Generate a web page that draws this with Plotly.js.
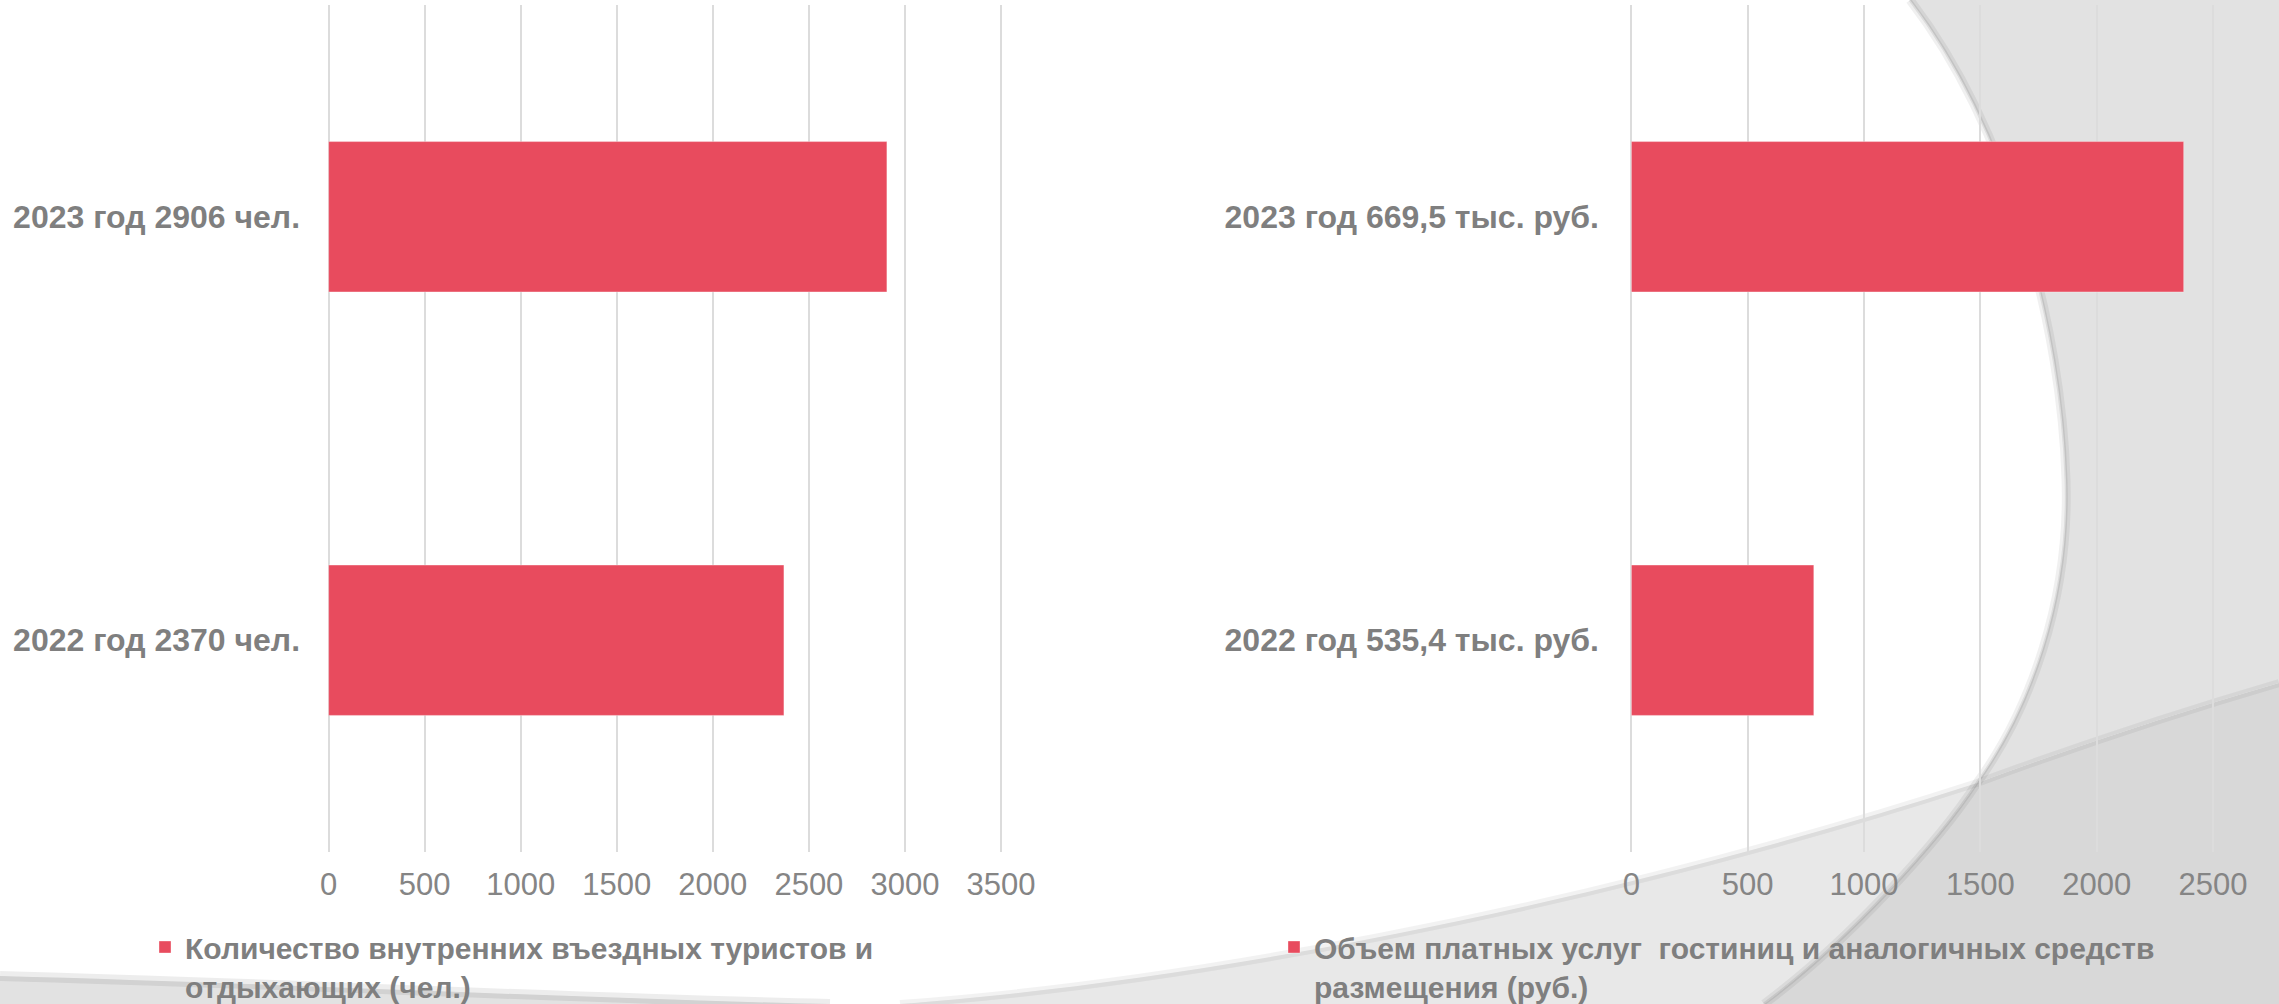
<!DOCTYPE html>
<html>
<head>
<meta charset="utf-8">
<script src="https://cdn.plot.ly/plotly-3.0.1.min.js"></script>
<style>
  html, body { margin: 0; padding: 0; background: #ffffff; overflow: hidden; }
  #chart { width: 2279px; height: 1004px; }
</style>
</head>
<body>
<div id="chart"></div>
<script>
// ---------------- data ----------------
const touristCategories = ['2022 год 2370 чел.', '2023 год 2906 чел.'];
const touristValues = [2370, 2906];
const touristSeriesName = 'Количество внутренних въездных туристов и<br>отдыхающих (чел.)';

const serviceCategories = ['2022 год 535,4 тыс. руб.', '2023 год 669,5 тыс. руб.'];
const serviceValues = [784, 2374];
const serviceSeriesName = 'Объем платных услуг \u00a0гостиниц и аналогичных средств<br>размещения (руб.)';

const leftTickValues = [0, 500, 1000, 1500, 2000, 2500, 3000, 3500];
const rightTickValues = [0, 500, 1000, 1500, 2000, 2500];

// ---------------- styling ----------------
const W = 2279, H = 1004;
const FONT = '"Liberation Sans", Arial, sans-serif';
const TEXT = '#7f7f7f';
const BAR = '#E84B5E';
const GRID = '#dcdcdc';

// pixel -> paper helpers for the decorative background
const px = (x, y) => (x / W).toFixed(5) + ',' + (1 - y / H).toFixed(5);
const C = (a, b, c) => ' C ' + px(...a) + ' ' + px(...b) + ' ' + px(...c);
const L = (x, y) => ' L ' + px(x, y);
const M = (x, y) => 'M ' + px(x, y);

// arc pieces (top-right big ellipse edge)
const A1 = C([2010,130],[2062,330],[2066,480]);
const A2 = C([2070,600],[2030,710],[1977,783]);
const A3 = C([1940,840],[1850,940],[1764,1004]);
const A3r = C([1850,940],[1940,840],[1977,783]);
// bottom rising curve
const B1 = C([1160,985],[1560,918],[1977,783]);
const B2 = C([2080,745],[2180,712],[2279,683]);
// bottom-left swoosh
const S1 = C([300,984],[560,998],[830,1004]);

const bgShapes = [
  { type: 'path', xref: 'paper', yref: 'paper', layer: 'below',
    path: M(1910,0) + A1 + A2 + B2 + L(2279,0) + ' Z',
    fillcolor: '#e2e2e2', line: { width: 0 } },
  { type: 'path', xref: 'paper', yref: 'paper', layer: 'below',
    path: M(900,1004) + B1 + A3 + ' Z',
    fillcolor: '#e8e8e8', line: { width: 0 } },
  { type: 'path', xref: 'paper', yref: 'paper', layer: 'below',
    path: M(1977,783) + B2 + L(2279,1004) + L(1764,1004) + A3r + ' Z',
    fillcolor: '#d8d8d8', line: { width: 0 } },
  { type: 'path', xref: 'paper', yref: 'paper', layer: 'below',
    path: M(0,976) + S1 + L(0,1004) + ' Z',
    fillcolor: '#e2e2e2', line: { width: 0 } },
  // soft shadows
  { type: 'path', xref: 'paper', yref: 'paper', layer: 'below',
    path: M(1910,0) + A1 + A2 + A3,
    line: { color: 'rgba(0,0,0,0.06)', width: 9 } },
  { type: 'path', xref: 'paper', yref: 'paper', layer: 'below',
    path: M(1910,0) + A1 + A2 + A3,
    line: { color: 'rgba(0,0,0,0.08)', width: 3 } },
  { type: 'path', xref: 'paper', yref: 'paper', layer: 'below',
    path: M(900,1004) + B1 + B2,
    line: { color: 'rgba(0,0,0,0.05)', width: 8 } },
  { type: 'path', xref: 'paper', yref: 'paper', layer: 'below',
    path: M(0,976) + S1,
    line: { color: 'rgba(0,0,0,0.07)', width: 10 } }
];

const traces = [
  {
    type: 'bar', orientation: 'h',
    x: touristValues, y: touristCategories,
    xaxis: 'x', yaxis: 'y',
    name: touristSeriesName, legend: 'legend',
    marker: { color: BAR, line: { color: 'rgba(255,255,255,0.35)', width: 1 } },
    hoverinfo: 'x+y'
  },
  {
    type: 'bar', orientation: 'h',
    x: serviceValues, y: serviceCategories,
    xaxis: 'x2', yaxis: 'y2',
    name: serviceSeriesName, legend: 'legend2',
    marker: { color: BAR, line: { color: 'rgba(255,255,255,0.35)', width: 1 } },
    hoverinfo: 'x+y'
  }
];

// plot area in pixels: top 5, bottom 852
const yDomain = [(H - 852) / H, (H - 5) / H];
// a few units of padding on each end so edge gridlines (0 and max) are drawn
const leftPad = 8, rightPad = 6;
const leftPxPerUnit = (1001 - 328.6) / 3500;
const rightPxPerUnit = (2213 - 1631.4) / 2500;

const xTickFont = { family: FONT, size: 31, color: '#858585' };
const yTickFont = { family: FONT, size: 32, color: TEXT, weight: 'bold' };

const legendCommon = {
  xref: 'container', yref: 'container',
  xanchor: 'left', yanchor: 'top', valign: 'top',
  font: { family: FONT, size: 30, color: TEXT, weight: 'bold' },
  bgcolor: 'rgba(0,0,0,0)', borderwidth: 0,
  tracegroupgap: 0, itemclick: false, itemdoubleclick: false
};

const layout = {
  width: W, height: H,
  margin: { l: 0, r: 0, t: 0, b: 0, pad: 0, autoexpand: false },
  paper_bgcolor: '#ffffff',
  plot_bgcolor: 'rgba(0,0,0,0)',
  font: { family: FONT, color: TEXT },
  bargap: 0.645,
  showlegend: true,
  xaxis: {
    domain: [(328.6 - leftPad * leftPxPerUnit) / W, (1001 + leftPad * leftPxPerUnit) / W],
    range: [-leftPad, 3500 + leftPad],
    tickvals: leftTickValues, ticktext: leftTickValues.map(String),
    showgrid: true, gridcolor: GRID, gridwidth: 1.5,
    zeroline: false, showline: false, ticks: '',
    tickfont: xTickFont, ticklabelstandoff: 11, fixedrange: true, anchor: 'y'
  },
  yaxis: {
    domain: yDomain, type: 'category',
    showgrid: false, zeroline: false, showline: false, ticks: '',
    tickfont: yTickFont, ticklabelstandoff: 26, fixedrange: true, anchor: 'x'
  },
  xaxis2: {
    domain: [(1631.4 - rightPad * rightPxPerUnit) / W, (2213 + rightPad * rightPxPerUnit) / W],
    range: [-rightPad, 2500 + rightPad],
    tickvals: rightTickValues, ticktext: rightTickValues.map(String),
    showgrid: true, gridcolor: GRID, gridwidth: 1.5,
    zeroline: false, showline: false, ticks: '',
    tickfont: xTickFont, ticklabelstandoff: 11, fixedrange: true, anchor: 'y2'
  },
  yaxis2: {
    domain: yDomain, type: 'category',
    showgrid: false, zeroline: false, showline: false, ticks: '',
    tickfont: yTickFont, ticklabelstandoff: 30, fixedrange: true, anchor: 'x2'
  },
  legend: Object.assign({}, legendCommon, { x: 145 / W, y: 1 - 921 / H }),
  legend2: Object.assign({}, legendCommon, { x: 1274 / W, y: 1 - 921 / H }),
  shapes: bgShapes
};

Plotly.newPlot('chart', traces, layout, { displayModeBar: false, responsive: false });
</script>
</body>
</html>
